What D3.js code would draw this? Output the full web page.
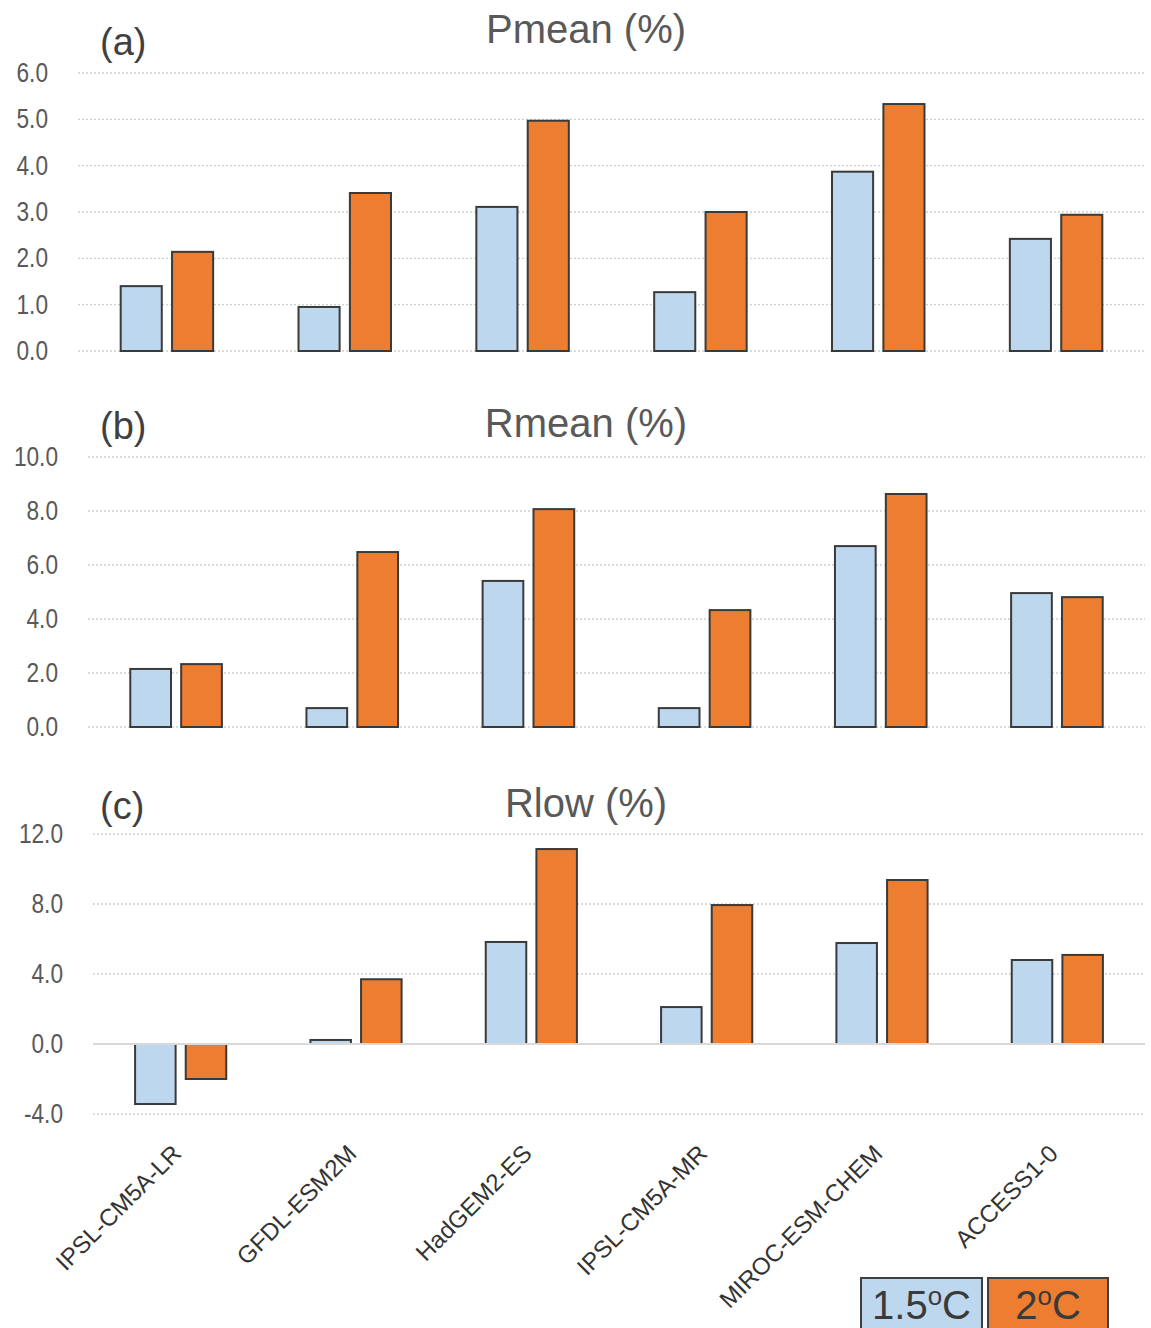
<!DOCTYPE html>
<html>
<head>
<meta charset="utf-8">
<script src="https://cdn.jsdelivr.net/npm/d3@7"></script>
<style>
  body { margin: 0; background: #fff; }
  svg { display: block; }
</style>
</head>
<body>
<div id="chart"></div>
<script>
const models = ['IPSL-CM5A-LR', 'GFDL-ESM2M', 'HadGEM2-ES', 'IPSL-CM5A-MR', 'MIROC-ESM-CHEM', 'ACCESS1-0'];
const series = ['1.5', '2'];

const pmean15 = [1.40, 0.95, 3.11, 1.27, 3.87, 2.42];
const pmean20 = [2.14, 3.41, 4.97, 3.00, 5.33, 2.94];
const rmean15 = [2.15, 0.70, 5.41, 0.70, 6.70, 4.96];
const rmean20 = [2.33, 6.48, 8.07, 4.33, 8.63, 4.81];
const rlow15 = [-3.43, 0.23, 5.83, 2.11, 5.77, 4.80];
const rlow20 = [-2.00, 3.70, 11.14, 7.94, 9.37, 5.09];

const pmeanTicks = [0, 1, 2, 3, 4, 5, 6];
const rmeanTicks = [0, 2, 4, 6, 8, 10];
const rlowTicks = [-4, 0, 4, 8, 12];

const width = 1151;
const height = 1328;
const colors = { '1.5': '#bdd7ee', '2': '#ed7d31' };
const narrow = 0.84; // y tick labels are condensed in the original

const svg = d3.select('#chart')
  .append('svg')
  .attr('width', width)
  .attr('height', height);

// one Excel-style panel per variable
const panels = [
  { letter: '(a)', title: 'Pmean (%)', a: pmean15, b: pmean20, ticks: pmeanTicks,
    left: 78, top: 73, bottom: 351, titleY: 43, letterY: 55 },
  { letter: '(b)', title: 'Rmean (%)', a: rmean15, b: rmean20, ticks: rmeanTicks,
    left: 88, top: 457, bottom: 727, titleY: 437, letterY: 439 },
  { letter: '(c)', title: 'Rlow (%)', a: rlow15, b: rlow20, ticks: rlowTicks,
    left: 93, top: 834, bottom: 1114, titleY: 817, letterY: 819 }
];
const right = 1145;

panels.forEach((p) => {
  const g = svg.append('g');

  const x = d3.scaleBand()
    .domain(models)
    .range([p.left, right]);

  const gw = x.bandwidth() * 0.52;
  const x1 = d3.scaleBand()
    .domain(series)
    .range([(x.bandwidth() - gw) / 2, (x.bandwidth() + gw) / 2])
    .paddingInner(0.2);

  const y = d3.scaleLinear()
    .domain(d3.extent(p.ticks))
    .range([p.bottom, p.top]);

  // gridlines
  g.selectAll('.grid')
    .data(p.ticks.filter((t) => t !== 0 || p.ticks[0] === 0))
    .enter()
    .append('line')
    .attr('x1', p.left)
    .attr('x2', right)
    .attr('y1', (d) => y(d))
    .attr('y2', (d) => y(d))
    .attr('stroke', '#cfcfcf')
    .attr('stroke-width', 1.3)
    .attr('stroke-dasharray', '2,2');

  // y labels
  const yAxis = d3.axisLeft(y)
    .tickValues(p.ticks)
    .tickFormat((d) => d3.format('.1f')(d).replace('−', '-'))
    .tickSize(0)
    .tickPadding(30 / narrow);

  g.append('g')
    .attr('transform', `translate(${p.left},0)`)
    .call(yAxis)
    .call((ax) => ax.select('.domain').remove())
    .selectAll('text')
    .attr('fill', '#595959')
    .attr('transform', `scale(${narrow},1)`)
    .style('font-family', '"Liberation Sans", Arial, sans-serif')
    .style('font-size', '27px');

  const rows = models.map((m, i) => ({ model: m, values: [
    { key: '1.5', v: p.a[i] }, { key: '2', v: p.b[i] }
  ] }));

  g.selectAll('.group')
    .data(rows)
    .enter()
    .append('g')
    .attr('transform', (d) => `translate(${x(d.model)},0)`)
    .selectAll('rect')
    .data((d) => d.values)
    .enter()
    .append('rect')
    .attr('x', (d) => x1(d.key))
    .attr('width', x1.bandwidth())
    .attr('y', (d) => y(Math.max(0, d.v)))
    .attr('height', (d) => Math.abs(y(d.v) - y(0)))
    .attr('fill', (d) => colors[d.key])
    .attr('stroke', '#3a3a3a')
    .attr('stroke-width', 2);

  // solid zero line when axis goes negative
  if (p.ticks[0] < 0) {
    g.append('line')
      .attr('x1', p.left)
      .attr('x2', right)
      .attr('y1', y(0))
      .attr('y2', y(0))
      .attr('stroke', '#d9d9d9')
      .attr('stroke-width', 2);
  }

  g.append('text')
    .attr('x', 100)
    .attr('y', p.letterY)
    .attr('fill', '#404040')
    .style('font-family', '"Liberation Sans", Arial, sans-serif')
    .style('font-size', '38px')
    .text(p.letter);

  g.append('text')
    .attr('x', 586)
    .attr('y', p.titleY)
    .attr('text-anchor', 'middle')
    .attr('fill', '#595959')
    .style('font-family', '"Liberation Sans", Arial, sans-serif')
    .style('font-size', '40px')
    .text(p.title);

  // category labels under the last panel
  if (p.ticks[0] < 0) {
    g.selectAll('.xlab')
      .data(models)
      .enter()
      .append('text')
      .attr('transform', (d) => `translate(${x(d) + x.bandwidth() / 2 + 2},1155) rotate(-45)`)
      .attr('text-anchor', 'end')
      .attr('fill', '#333')
      .style('font-family', '"Liberation Sans", Arial, sans-serif')
      .style('font-size', '24px')
      .text((d) => d);
  }
});

// legend boxes
const legend = svg.append('g');
const legendItems = [
  { key: '1.5', x: 861, w: 121 },
  { key: '2', x: 988, w: 120 }
];

const item = legend.selectAll('g')
  .data(legendItems)
  .enter()
  .append('g')
  .attr('transform', (d) => `translate(${d.x},1278)`);

item.append('rect')
  .attr('width', (d) => d.w)
  .attr('height', 70)
  .attr('fill', (d) => colors[d.key])
  .attr('stroke', '#404040')
  .attr('stroke-width', 2);

const lt = item.append('text')
  .attr('x', (d) => d.w / 2)
  .attr('y', 41)
  .attr('text-anchor', 'middle')
  .attr('fill', '#3a3a3a')
  .style('font-family', '"Liberation Sans", Arial, sans-serif')
  .style('font-size', '40px');

lt.append('tspan').text((d) => d.key);
lt.append('tspan')
  .attr('dy', -14)
  .style('font-size', '26px')
  .text('o');
lt.append('tspan')
  .attr('dy', 14)
  .text('C');
</script>
</body>
</html>
